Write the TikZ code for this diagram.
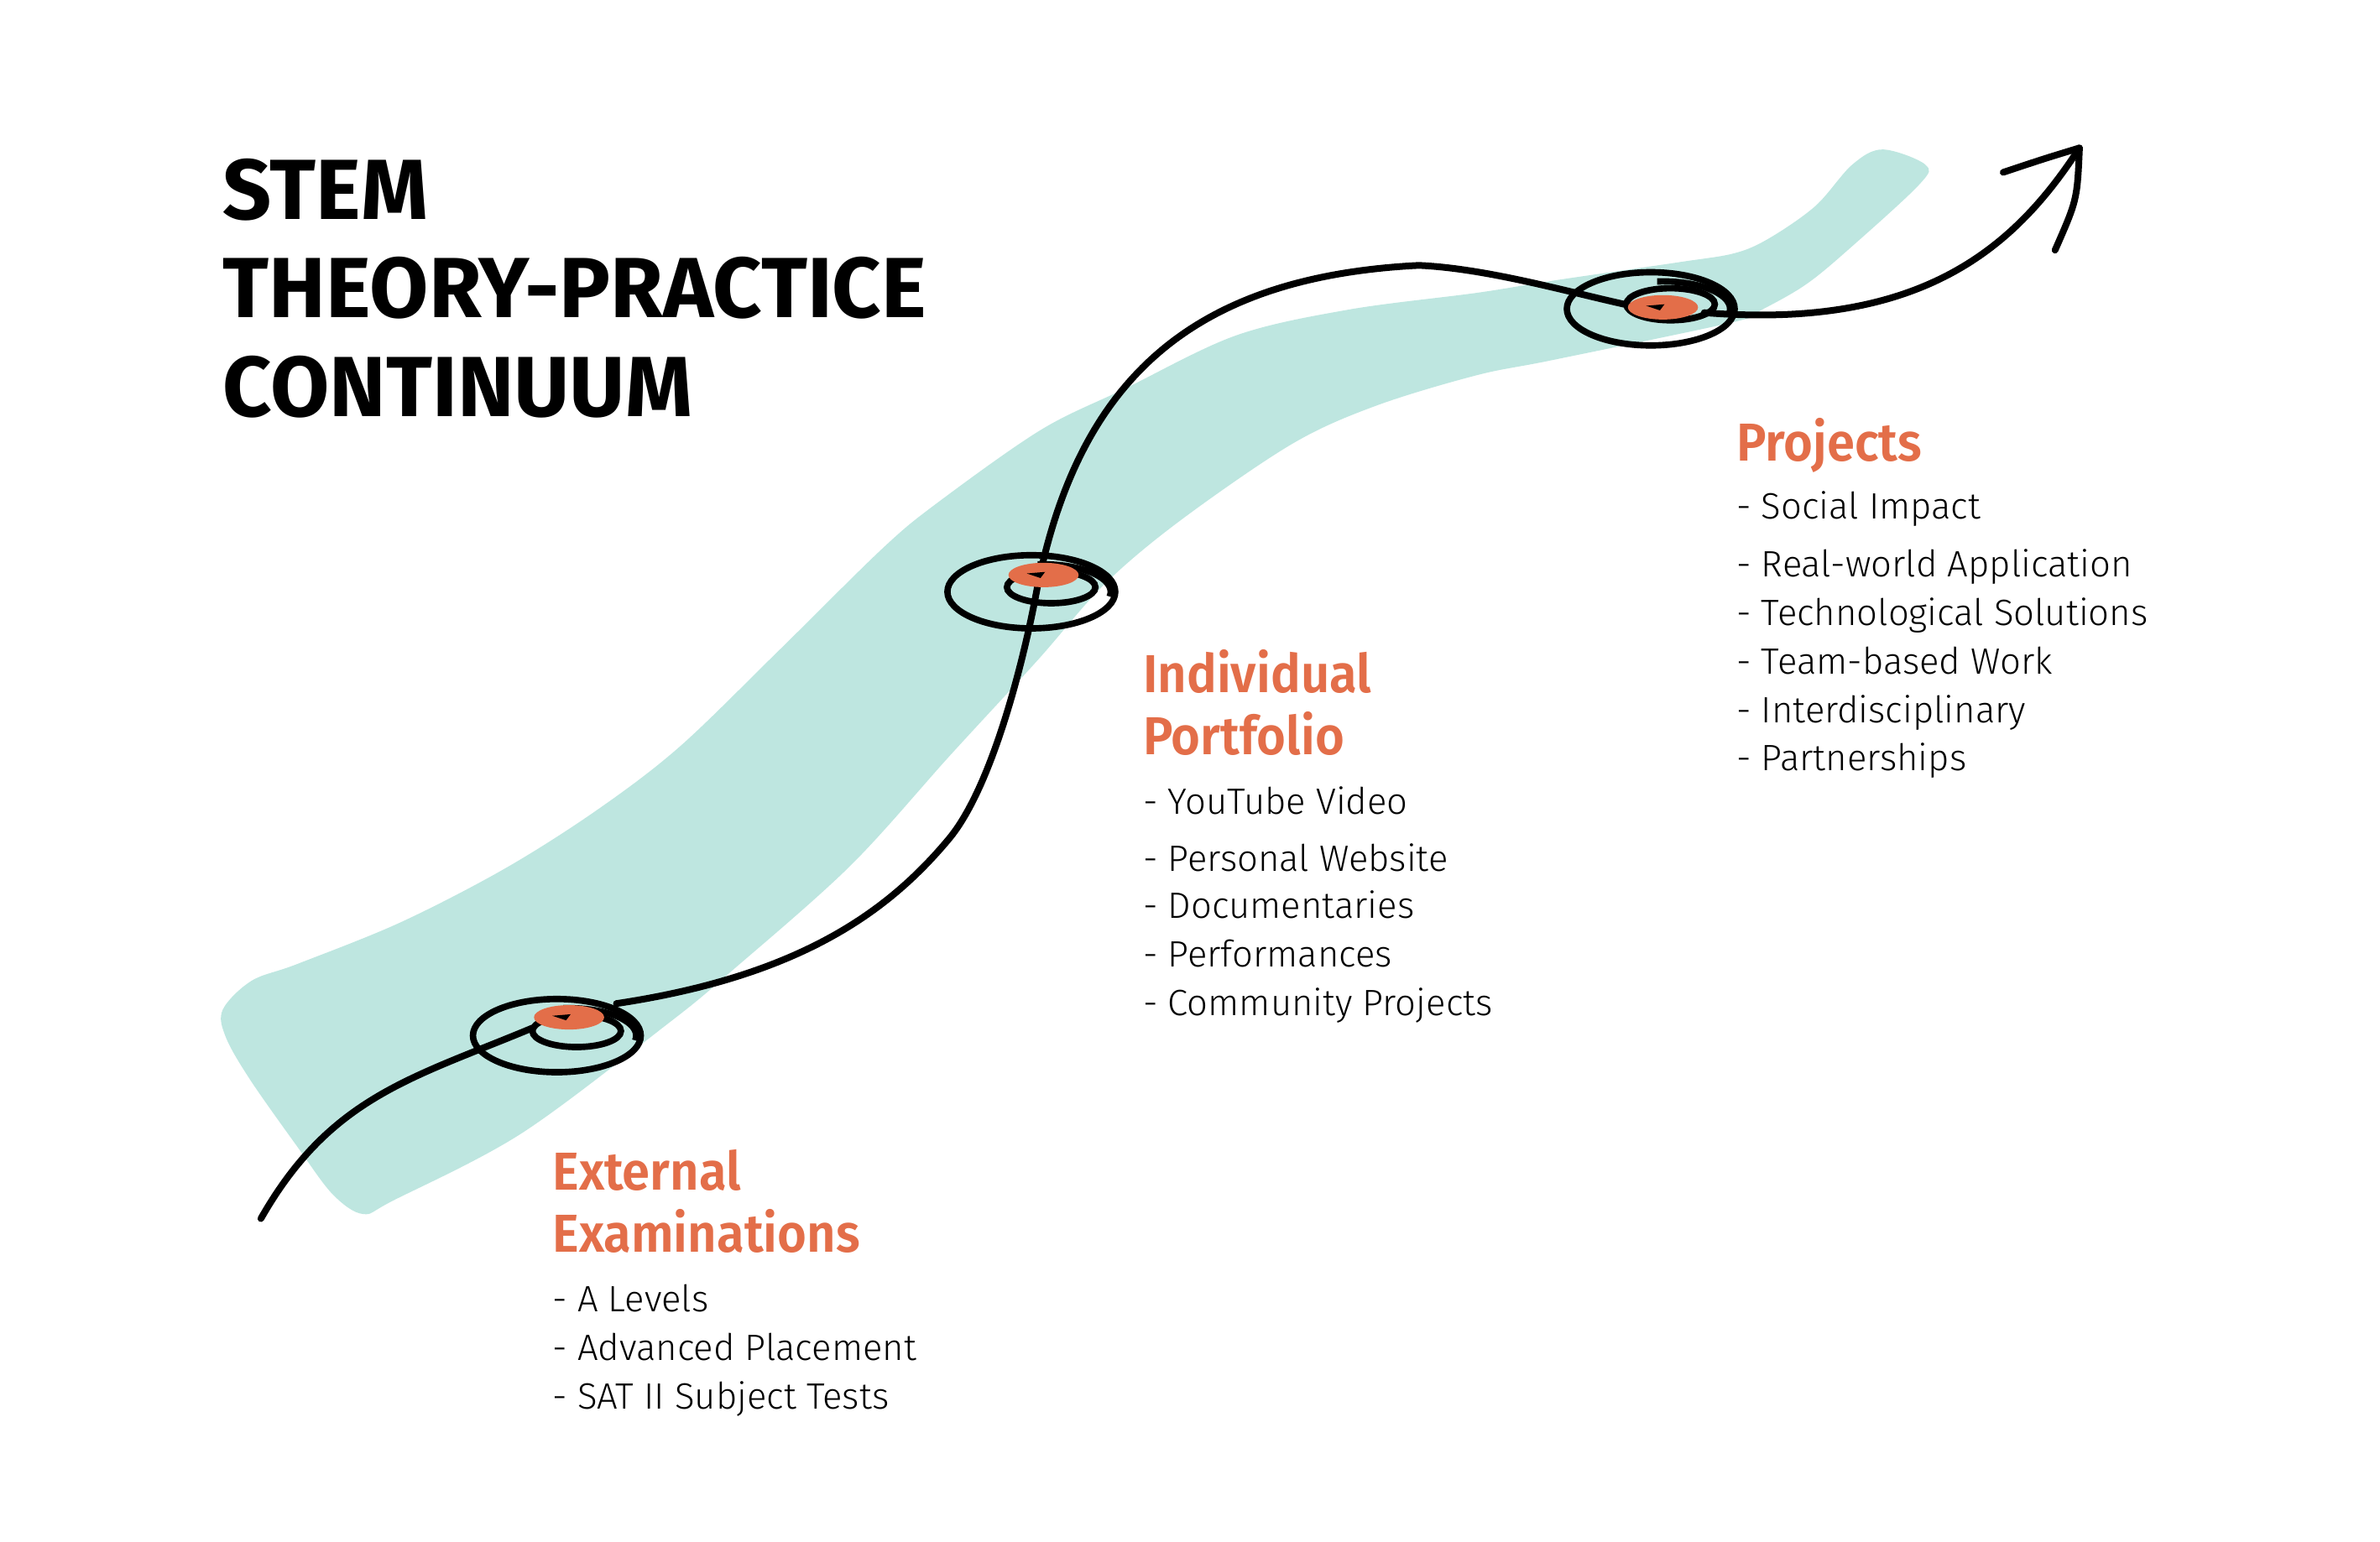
\documentclass[tikz,border=0pt]{standalone}
\usepackage{fontspec}
\setmainfont{Fira Sans}
\newfontfamily\headfont{Fira Sans}[UprightFont=* SemiBold, FakeStretch=0.94]
\newfontfamily\itemfont{Fira Sans}[UprightFont=* Light]
\usetikzlibrary{positioning}
\definecolor{bandteal}{RGB}{190,230,224}
\definecolor{stoporange}{RGB}{227,110,73}
\tikzset{
  pen/.style={line width=4.4pt, line cap=round, line join=round},
  ring/.style={line width=4.2pt},
  title/.style={anchor=base west, inner sep=0pt, font=\fontsize{56}{60}\selectfont\bfseries},
  heading/.style={anchor=base west, inner sep=0pt, text=stoporange, font=\fontsize{35}{38}\selectfont\headfont},
  item/.style={anchor=base west, inner sep=0pt, font=\fontsize{24}{32}\selectfont\itemfont},
}
\begin{document}
\begin{tikzpicture}[x=1pt, y=1pt]
\useasboundingbox (0,0) rectangle (1560,-1011);

% teal band
\fill[bandteal] plot[smooth cycle, tension=0.55] coordinates {
  (146,-662) (165,-643) (195,-632) (262,-605) (330,-570) (390,-532) (445,-490)
  (510,-427) (578,-360) (614,-330) (682,-282) (737,-255) (810,-220) (884,-203)
  (968,-192) (1018,-184) (1100,-172) (1137,-166) (1160,-156) (1190,-135)
  (1214,-108) (1234,-98) (1262,-108) (1258,-121) (1210,-165) (1183,-187)
  (1155,-203) (1137,-211) (1018,-236) (968,-246) (902,-266) (847,-291)
  (774,-341) (724,-383) (680,-433) (623,-495) (557,-568) (478,-638) (438,-671)
  (342,-743) (258,-787) (238,-796) (218,-783) (195,-752) (164,-708) (148,-680)};

% path points
\coordinate (pen) at (171,-799);
\coordinate (extin) at (349,-674);
\coordinate (extout) at (404,-658);
\coordinate (bend) at (622,-550);
\coordinate (ind) at (679,-390);
\coordinate (crest) at (930,-174);
\coordinate (projin) at (1067,-200);
\coordinate (projout) at (1117,-205);
\coordinate (tip) at (1363,-97);
\coordinate (barbL) at (1313,-113);
\coordinate (barbR) at (1347,-164);

% the line
\draw[pen] (pen) .. controls +(45.6,80) and +(-79,-33) .. (extin);
\draw[pen] (extout) .. controls +(120,18) and +(-40,-48) .. (bend)
  .. controls +(28,33.6) and +(-8.5,-45) .. (ind)
  .. controls +(26.6,140) and +(-150,-7.5) .. (crest)
  .. controls +(45,-2) and +(-37,8) .. (projin);
\draw[pen] (projout) .. controls +(140,-11.2) and +(-44,-68) .. (tip);
\draw[pen] (barbL) .. controls (1340,-104) .. (tip) .. controls (1361.5,-131) .. (barbR);

% spirals
\foreach \n/\cx/\cy/\oy in {ext/365/-679/12, ind/676/-388/11, proj/1082/-202.5/1} {
  \coordinate (\n) at (\cx,\cy);
  \draw[ring] (\n) ellipse [x radius=55, y radius=24];
  \draw[ring] ([shift={(13,3)}]\n) ellipse [x radius=29, y radius=10.5];
  \draw[ring, shift={(\cx+8,\cy)}] (95:44 and 18) arc [start angle=95, end angle=-10, x radius=44, y radius=18];
  \fill[stoporange] ([shift={(8,\oy)}]\n) ellipse [x radius=23, y radius=8];
  \fill ([shift={(-3,\oy+1)}]\n) -- ([shift={(9,\oy+2)}]\n) -- ([shift={(6,\oy-2)}]\n) -- cycle;
}

% title
\node[title] (stem) at (146,-144) {STEM};
\node[title] (theory) at (146,-208) {THEORY-PRACTICE};
\node[title] (continuum) at (146,-273) {CONTINUUM};

% headings
\node[heading] (exthead) at (362,-780) {External};
\node[heading] (exthead2) at (362,-821) {Examinations};
\node[heading] (indhead) at (749,-454) {Individual};
\node[heading] (indhead2) at (749,-495) {Portfolio};
\node[heading] (projhead) at (1138,-302) {Projects};

% lists
\foreach \y/\txt [count=\i] in {860/A Levels, 892/Advanced Placement, 924/SAT II Subject Tests}
  \node[item] (extitem\i) at (362,-\y) {- \txt};
\foreach \y/\txt [count=\i] in {534/YouTube Video, 571/Personal Website, 602/Documentaries, 634/Performances, 666/Community Projects}
  \node[item] (inditem\i) at (749,-\y) {- \txt};
\foreach \y/\txt [count=\i] in {340/Social Impact, 378/Real-world Application, 410/Technological Solutions, 442/Team-based Work, 474/Interdisciplinary, 505/Partnerships}
  \node[item] (projitem\i) at (1138,-\y) {- \txt};
\end{tikzpicture}
\end{document}
